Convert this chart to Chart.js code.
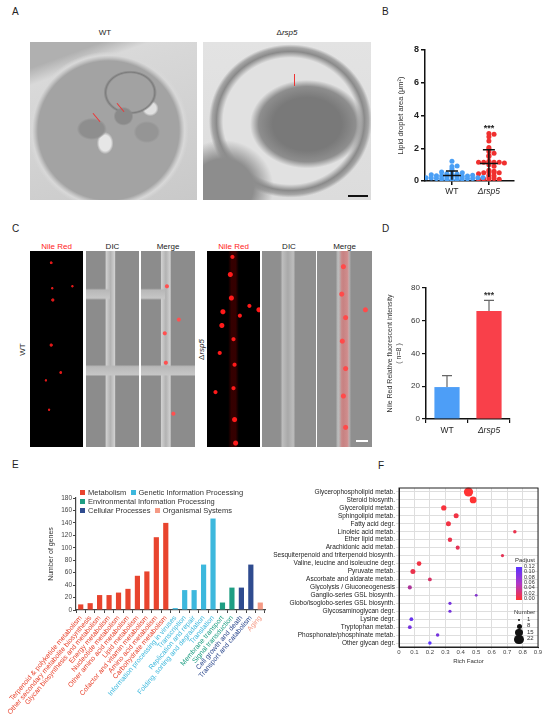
<!DOCTYPE html>
<html>
<head>
<meta charset="utf-8">
<script src="https://cdn.jsdelivr.net/npm/chart.js@4.4.1/dist/chart.umd.min.js"></script>
<style>
body{margin:0;background:#fff;font-family:'Liberation Sans',Arial,sans-serif;}
#wrap{position:relative;width:550px;height:719px;overflow:hidden;background:#fff;}
.abs{position:absolute;}
.pl{position:absolute;font-size:10px;color:#222;}
.ttl{position:absolute;font-size:8px;color:#222;text-align:center;}
canvas{position:absolute;}
.em{position:absolute;}
.lg{position:absolute;font-size:7.5px;color:#333;white-space:nowrap;}
.lg i{display:inline-block;width:5px;height:5px;margin:0 3px 0 0;font-style:normal;}
.sm{position:absolute;font-size:6px;color:#333;white-space:nowrap;}
</style>
</head>
<body>
<div id="wrap">
  <!-- panel letters -->
  <div class="pl" style="left:12px;top:6px">A</div>
  <div class="pl" style="left:382px;top:6px">B</div>
  <div class="pl" style="left:12px;top:223px">C</div>
  <div class="pl" style="left:382px;top:223px">D</div>
  <div class="pl" style="left:12px;top:459px">E</div>
  <div class="pl" style="left:378px;top:460px">F</div>

  <!-- A: EM images -->
  <div class="ttl" style="left:80px;top:28px;width:50px">WT</div>
  <div class="ttl" style="left:262px;top:28px;width:50px">&Delta;<i>rsp5</i></div>
  <div class="em" style="left:30px;top:42px;width:167px;height:158px;background:
    radial-gradient(ellipse 9% 7% at 37% 55%, #8e8e8e 0 80%, transparent 100%),
    radial-gradient(ellipse 6% 6% at 56% 47%, #8a8a8a 0 80%, transparent 100%),
    radial-gradient(ellipse 8% 7% at 70% 57%, #959595 0 80%, transparent 100%),
    radial-gradient(ellipse 16% 14% at 60% 32%, #a2a2a2 0 85%, #7c7c7c 92%, transparent 100%),
    radial-gradient(ellipse 5% 7% at 45% 64%, #e6e6e6 0 70%, transparent 100%),
    radial-gradient(ellipse 5% 5% at 72% 42%, #e0e0e0 0 70%, transparent 100%),
    radial-gradient(ellipse 48% 50% at 47% 56%, #a3a3a3 0 88%, #c4c4c4 92%, #d8d8d8 95%, transparent 100%),
    linear-gradient(160deg, #b0b0b0 0 12%, #d9d9d9 20%, #c9c9c9 100%);"></div>
  <div class="em" style="left:203px;top:42px;width:168px;height:158px;background:
    radial-gradient(ellipse 34% 28% at 62% 52%, #797979 0 60%, #8e8e8e 85%, transparent 100%),
    radial-gradient(ellipse 30% 30% at 12% 92%, #8d8d8d 0 60%, transparent 100%),
    radial-gradient(ellipse 50% 50% at 52% 50%, #e1e1e1 0 80%, #8a8a8a 88%, #a5a5a5 93%, transparent 97%),
    linear-gradient(180deg, #e3e3e3, #dcdcdc);"></div>
  <div class="abs" style="left:96px;top:112px;width:1px;height:11px;background:#e33;transform:rotate(-40deg)"></div>
  <div class="abs" style="left:120px;top:102px;width:1px;height:11px;background:#e33;transform:rotate(-40deg)"></div>
  <div class="abs" style="left:294px;top:74px;width:1px;height:12px;background:#e33"></div>
  <div class="abs" style="left:348px;top:195px;width:20px;height:1.5px;background:#111"></div>

  <!-- C: fluorescence images -->
  <div class="ttl" style="left:30px;top:242px;width:53px;color:#f22">Nile Red</div>
  <div class="ttl" style="left:86px;top:242px;width:53px">DIC</div>
  <div class="ttl" style="left:141px;top:242px;width:54px">Merge</div>
  <div class="ttl" style="left:207px;top:242px;width:53px;color:#f22">Nile Red</div>
  <div class="ttl" style="left:262px;top:242px;width:54px">DIC</div>
  <div class="ttl" style="left:317px;top:242px;width:55px">Merge</div>
  <div class="ttl" style="left:2px;top:345px;width:40px;transform:rotate(-90deg)">WT</div>
  <div class="ttl" style="left:181px;top:345px;width:40px;transform:rotate(-90deg)">&Delta;<i>rsp5</i></div>

  <div class="em" style="left:30px;top:251px;width:53px;height:196px;background:
    radial-gradient(circle at 40% 6%, #e01818 0 1px, transparent 1.8px),
    radial-gradient(circle at 42% 19%, #e01818 0 0.8px, transparent 1.6px),
    radial-gradient(circle at 80% 18%, #e01818 0 0.8px, transparent 1.6px),
    radial-gradient(circle at 43% 25%, #e01818 0 1.2px, transparent 2px),
    radial-gradient(circle at 40% 48%, #e01818 0 1.2px, transparent 2px),
    radial-gradient(circle at 58% 62%, #e01818 0 1px, transparent 1.8px),
    radial-gradient(circle at 30% 66%, #e01818 0 0.8px, transparent 1.6px),
    radial-gradient(circle at 36% 81%, #e01818 0 0.8px, transparent 1.6px),
    #000;"></div>
  <div class="em" style="left:86px;top:251px;width:53px;height:196px;background:
    linear-gradient(0deg, transparent 36%, #c6c6c6 37%, #b8b8b8 41%, transparent 42%) 50% 0/100% 100% no-repeat,
    linear-gradient(0deg, transparent 75%, #c6c6c6 76%, #b8b8b8 80%, transparent 81%) 0 0/45% 100% no-repeat,
    linear-gradient(90deg, #8c8c8c 0 36%, #d0d0d0 38%, #b2b2b2 46%, #d0d0d0 54%, #8c8c8c 56%);"></div>
  <div class="em" style="left:141px;top:251px;width:54px;height:196px;background:
    radial-gradient(circle at 48% 18%, #ff5050 0 1.5px, transparent 2.5px),
    radial-gradient(circle at 70% 35%, #ff5050 0 1.5px, transparent 2.5px),
    radial-gradient(circle at 44% 42%, #ff5050 0 1.5px, transparent 2.5px),
    radial-gradient(circle at 46% 57%, #ff5050 0 1.5px, transparent 2.5px),
    radial-gradient(circle at 60% 83%, #ff5050 0 1.5px, transparent 2.5px),
    linear-gradient(0deg, transparent 36%, #c6c6c6 37%, #b8b8b8 41%, transparent 42%) 50% 0/100% 100% no-repeat,
    linear-gradient(0deg, transparent 75%, #c6c6c6 76%, #b8b8b8 80%, transparent 81%) 0 0/45% 100% no-repeat,
    linear-gradient(90deg, #8c8c8c 0 36%, #d0d0d0 38%, #b2b2b2 46%, #d0d0d0 54%, #8c8c8c 56%);"></div>

  <div class="em" style="left:207px;top:251px;width:53px;height:196px;background:
    radial-gradient(circle at 48% 3%, #ff1a1a 0 1.5px, transparent 2.5px),
    radial-gradient(circle at 44% 12%, #ff1a1a 0 2px, transparent 3px),
    radial-gradient(circle at 46% 24%, #ff1a1a 0 2px, transparent 3px),
    radial-gradient(circle at 30% 31%, #ff1a1a 0 2px, transparent 3px),
    radial-gradient(circle at 62% 33%, #ff1a1a 0 1.5px, transparent 2.5px),
    radial-gradient(circle at 80% 28%, #ff1a1a 0 1.5px, transparent 2.5px),
    radial-gradient(circle at 98% 30%, #ff1a1a 0 2px, transparent 3px),
    radial-gradient(circle at 28% 38%, #ff1a1a 0 2px, transparent 3px),
    radial-gradient(circle at 50% 45%, #ff1a1a 0 1.5px, transparent 2.5px),
    radial-gradient(circle at 24% 52%, #ff1a1a 0 1.5px, transparent 2.5px),
    radial-gradient(circle at 52% 58%, #ff1a1a 0 1.5px, transparent 2.5px),
    radial-gradient(circle at 50% 70%, #ff1a1a 0 1.5px, transparent 2.5px),
    radial-gradient(circle at 16% 72%, #ff1a1a 0 1.5px, transparent 2.5px),
    radial-gradient(circle at 52% 86%, #ff1a1a 0 2px, transparent 3px),
    radial-gradient(circle at 54% 98%, #ff1a1a 0 2px, transparent 3px),
    linear-gradient(90deg, transparent 40%, rgba(150,0,0,.35) 46%, rgba(150,0,0,.35) 54%, transparent 60%),
    #000;"></div>
  <div class="em" style="left:262px;top:251px;width:54px;height:196px;background:
    linear-gradient(90deg, #8f8f8f 0 34%, #bdbdbd 38%, #a9a9a9 48%, #bdbdbd 58%, #8f8f8f 62%);"></div>
  <div class="em" style="left:317px;top:251px;width:55px;height:196px;background:
    radial-gradient(circle at 48% 8%, #ff4a4a 0 2px, transparent 3px),
    radial-gradient(circle at 45% 22%, #ff4a4a 0 2px, transparent 3px),
    radial-gradient(circle at 52% 34%, #ff4a4a 0 2px, transparent 3px),
    radial-gradient(circle at 88% 30%, #ff4a4a 0 2px, transparent 3px),
    radial-gradient(circle at 46% 46%, #ff4a4a 0 2px, transparent 3px),
    radial-gradient(circle at 52% 60%, #ff4a4a 0 2px, transparent 3px),
    radial-gradient(circle at 48% 74%, #ff4a4a 0 2px, transparent 3px),
    radial-gradient(circle at 52% 90%, #ff4a4a 0 2px, transparent 3px),
    linear-gradient(90deg, transparent 40%, rgba(255,60,60,.35) 45%, rgba(255,60,60,.35) 55%, transparent 60%),
    linear-gradient(90deg, #8f8f8f 0 34%, #bdbdbd 38%, #a9a9a9 48%, #bdbdbd 58%, #8f8f8f 62%);"></div>
  <div class="abs" style="left:356px;top:440px;width:12px;height:1.5px;background:#fff"></div>

  <canvas id="chartB" width="145" height="160" style="left:385px;top:40px;width:145px;height:160px"></canvas>
  <canvas id="chartD" width="140" height="170" style="left:385px;top:278px;width:140px;height:170px"></canvas>
  <canvas id="chartE" width="275" height="234" style="left:0px;top:485px;width:275px;height:234px"></canvas>
  <canvas id="chartF" width="295" height="185" style="left:250px;top:480px;width:295px;height:185px"></canvas>

  <!-- E legend -->
  <div class="lg" style="left:80px;top:488px"><i style="background:#e8442e"></i>Metabolism&nbsp;&nbsp;<i style="background:#3db8dd"></i>Genetic Information Processing</div>
  <div class="lg" style="left:80px;top:497px"><i style="background:#1e9e83"></i>Environmental Information Processing</div>
  <div class="lg" style="left:80px;top:506px"><i style="background:#2f4b8f"></i>Cellular Processes&nbsp;&nbsp;<i style="background:#f59a85"></i>Organismal Systems</div>

  <!-- F legends -->
  <div class="sm" style="left:515px;top:557px">Padjust</div>
  <div class="abs" style="left:516px;top:567px;width:6px;height:33px;background:linear-gradient(180deg,#5a33ff,#b038c8,#ff3333)"></div>
  <div id="padLbl"></div>
  <div class="sm" style="left:514px;top:609px">Number</div>
  <div id="numLbl"></div>
</div>

<script>
// ---------- data ----------
// B: lipid droplet area (um2)
const bLabels = ['WT', '\u0394rsp5'];
const bWT = [0.05,0.06,0.08,0.1,0.1,0.12,0.12,0.14,0.15,0.16,0.18,0.2,0.2,0.22,0.24,0.25,0.26,0.28,0.3,0.3,0.32,0.35,0.38,0.4,0.42,0.45,0.5,0.55,0.62,0.75,0.88,0.92,1.2];
const bRsp5 = [2.9,2.85,2.7,2.45,2.05,1.95,1.8,1.7,1.55,1.5,1.2,1.15,1.15,1.15,1.15,1.15,1.1,1.0,0.9,0.65,0.6,0.55,0.5,0.5,0.5,0.45,0.35,0.3,0.2,0.15,0.12,0.1,0.1,0.05];
const bTicks = [0, 2, 4, 6, 8];

// D: Nile Red relative fluorescent intensity
const dLabels = ['WT', '\u0394rsp5'];
const dValues = [19.5, 66];
const dErrors = [7, 6.5];

// E: KEGG classes
const eCategories = [
  'Terpenoid & polyketide metabolism','Other secondary metabolite biosynthesis','Glycan biosynthesis and metabolism',
  'Energy metabolism','Nucleotide metabolism','Other amino acid metabolism','Lipid metabolism',
  'Cofactor and vitamin metabolism','Amino acid metabolism','Carbohydrate metabolism',
  'Information processing in viruses','Transcription','Replication and repair','Folding, sorting and degradation','Translation',
  'Membrane transport','Signal transduction','Cell growth and death','Transport and catabolism','Aging'];
const eValues = [9,11,24,24,28,34,55,62,117,140, 3,32,32,73,147, 12,36, 36,73, 12];
const eGroups = [0,0,0,0,0,0,0,0,0,0, 1,1,1,1,1, 2,2, 3,3, 4];
const eGroupNames = ['Metabolism','Genetic Information Processing','Environmental Information Processing','Cellular Processes','Organismal Systems'];
const eGroupColors = ['#e8442e','#3db8dd','#1e9e83','#2f4b8f','#f59a85'];

// F: enrichment
const fTerms = ['Glycerophospholipid metab.','Steroid biosynth.','Glycerolipid metab.','Sphingolipid metab.','Fatty acid degr.',
  'Linoleic acid metab.','Ether lipid metab.','Arachidonic acid metab.','Sesquiterpenoid and triterpenoid biosynth.',
  'Valine, leucine and isoleucine degr.','Pyruvate metab.','Ascorbate and aldarate metab.','Glycolysis / Gluconeogenesis',
  'Ganglio-series GSL biosynth.','Globo/isoglobo-series GSL biosynth.','Glycosaminoglycan degr.','Lysine degr.',
  'Tryptophan metab.','Phosphonate/phosphinate metab.','Other glycan degr.'];
const fRich = [0.45,0.48,0.29,0.37,0.32,0.75,0.33,0.38,0.67,0.13,0.09,0.2,0.07,0.5,0.33,0.33,0.08,0.07,0.25,0.2];
const fCount = [22,14,9,8,8,3,6,5,2,7,8,4,5,1,2,2,4,4,3,3];
const fPadj = [0.0,0.0,0.005,0.01,0.01,0.015,0.015,0.02,0.02,0.01,0.015,0.03,0.06,0.09,0.1,0.1,0.11,0.1,0.1,0.12];
const fPadjTicks = [0.12,0.10,0.08,0.06,0.04,0.02,0.00];
const fNumTicks = [1,8,15,22];

// ---------- helpers ----------
const FONT = "'Liberation Sans', Arial, sans-serif";
Chart.defaults.font.family = FONT;
Chart.defaults.color = '#222';

function mean(a){ return a.reduce((s,v)=>s+v,0)/a.length; }
function sd(a){ const m = mean(a); return Math.sqrt(a.reduce((s,v)=>s+(v-m)*(v-m),0)/(a.length-1)); }

// simple bee-swarm: spread points of similar value sideways
function swarm(vals, binW, dx){
  const bins = {};
  return vals.map(v => {
    const k = Math.round(v / binW);
    const n = bins[k] = (bins[k] || 0) + 1;
    const i = n - 1;
    return i === 0 ? 0 : (i % 2 ? 1 : -1) * Math.ceil(i / 2) * dx;
  });
}

function padjColor(p){
  const t = Math.min(1, Math.max(0, p / 0.12));
  const c0 = [255,51,51], c1 = [90,51,255];
  const c = c0.map((v,i)=>Math.round(v + (c1[i]-v)*t));
  return 'rgb(' + c.join(',') + ')';
}
function bubbleR(n){ return 1.3 + 0.15 * n; }

// ---------- B ----------
const bGroups = [bWT, bRsp5];
const bColors = ['#4a9ff5', '#f0302f'];

const swarmSD = {
  id: 'swarmSD',
  afterDatasetsDraw(chart){
    const {ctx, scales:{x, y}} = chart;
    ctx.save();
    ctx.strokeStyle = '#111';
    ctx.lineWidth = 1.5;
    bGroups.forEach((vals, i) => {
      const m = mean(vals), s = sd(vals);
      const cx = x.getPixelForValue(i + 1);
      const yt = y.getPixelForValue(m + s), ym = y.getPixelForValue(m), yb = y.getPixelForValue(Math.max(0, m - s));
      ctx.beginPath();
      ctx.moveTo(cx - 9, ym); ctx.lineTo(cx + 9, ym);
      ctx.moveTo(cx, yb); ctx.lineTo(cx, yt);
      ctx.moveTo(cx - 6, yt); ctx.lineTo(cx + 6, yt);
      ctx.stroke();
    });
    ctx.fillStyle = '#222';
    ctx.font = 'bold 9px ' + FONT;
    ctx.textAlign = 'center';
    ctx.fillText('***', x.getPixelForValue(2), y.getPixelForValue(3.05));
    ctx.restore();
  }
};

new Chart(document.getElementById('chartB'), {
  type: 'scatter',
  data: {
    datasets: bGroups.map((vals, i) => {
      const off = swarm(vals, 0.16, 0.14);
      return {
        data: vals.map((v, j) => ({x: i + 1 + off[j], y: v})),
        backgroundColor: bColors[i],
        borderWidth: 0,
        pointRadius: 2.5
      };
    })
  },
  options: {
    responsive: false, animation: false,
    layout: {padding: {left: 11, top: 10, right: 16, bottom: 0}},
    plugins: {legend: {display: false}, tooltip: {enabled: false}},
    scales: {
      x: {
        type: 'linear', min: 0.27, max: 2.68,
        afterBuildTicks: s => { s.ticks = [{value: 1}, {value: 2}]; },
        afterFit: s => { s.height = 19; },
        grid: {drawOnChartArea: false, color: '#111', tickLength: 4, lineWidth: 1.5},
        border: {color: '#111', width: 1.5},
        ticks: {
          callback: v => bLabels[v - 1],
          color: '#222', padding: 2,
          font: c => ({family: FONT, size: 8.5, style: c.index === 1 ? 'italic' : 'normal'})
        }
      },
      y: {
        min: 0, max: 8,
        afterBuildTicks: s => { s.ticks = bTicks.map(v => ({value: v})); },
        afterFit: s => { s.width = 29; },
        grid: {drawOnChartArea: false, color: '#111', tickLength: 4, lineWidth: 1.5},
        border: {color: '#111', width: 1.5},
        ticks: {color: '#222', padding: 2, font: {size: 9, weight: 'bold'}},
        title: {display: true, text: 'Lipid droplet area (\u03bcm\u00b2)', font: {size: 7.5}, color: '#333', padding: {top: 0, bottom: 2}}
      }
    }
  },
  plugins: [swarmSD]
});

// ---------- D ----------
const barErr = {
  id: 'barErr',
  afterDatasetsDraw(chart){
    const {ctx, scales:{y}} = chart;
    const meta = chart.getDatasetMeta(0);
    ctx.save();
    ctx.strokeStyle = '#666';
    ctx.lineWidth = 1.2;
    meta.data.forEach((bar, i) => {
      const top = y.getPixelForValue(dValues[i] + dErrors[i]);
      ctx.beginPath();
      ctx.moveTo(bar.x, bar.y); ctx.lineTo(bar.x, top);
      ctx.moveTo(bar.x - 5, top); ctx.lineTo(bar.x + 5, top);
      ctx.stroke();
    });
    ctx.fillStyle = '#333';
    ctx.font = 'bold 8.5px ' + FONT;
    ctx.textAlign = 'center';
    ctx.fillText('***', meta.data[1].x, y.getPixelForValue(dValues[1] + dErrors[1]) - 2);
    ctx.restore();
  }
};

new Chart(document.getElementById('chartD'), {
  type: 'bar',
  data: {
    labels: dLabels,
    datasets: [{data: dValues, backgroundColor: ['#4d9ef7', '#f9404a'], barPercentage: 0.6, categoryPercentage: 1}]
  },
  options: {
    responsive: false, animation: false,
    layout: {padding: {left: 1, top: 10, right: 15, bottom: 0}},
    plugins: {legend: {display: false}, tooltip: {enabled: false}},
    scales: {
      x: {
        afterFit: s => { s.height = 29; },
        grid: {drawOnChartArea: false, color: '#111', tickLength: 4, lineWidth: 1.2},
        border: {color: '#111', width: 1.5},
        ticks: {
          color: '#222', padding: 3,
          font: c => ({family: FONT, size: 8.5, style: c.index === 1 ? 'italic' : 'normal'})
        }
      },
      y: {
        min: 0, max: 80,
        ticks: {stepSize: 20, color: '#333', padding: 2, font: {size: 8}},
        afterFit: s => { s.width = 40; },
        grid: {drawOnChartArea: false, color: '#111', tickLength: 4, lineWidth: 1.2},
        border: {color: '#111', width: 1.5},
        title: {display: true, text: ['Nile Red Relative fluorescent intensity', '( n=8 )'], font: {size: 7}, color: '#333', padding: {top: 0, bottom: 2}}
      }
    }
  },
  plugins: [barErr]
});

// ---------- E ----------
new Chart(document.getElementById('chartE'), {
  type: 'bar',
  data: {
    labels: eCategories,
    datasets: [{data: eValues, backgroundColor: eGroups.map(g => eGroupColors[g]), barPercentage: 0.55, categoryPercentage: 1}]
  },
  options: {
    responsive: false, animation: false,
    layout: {padding: {left: 47, top: 13, right: 10, bottom: 0}},
    plugins: {legend: {display: false}, tooltip: {enabled: false}},
    scales: {
      x: {
        afterFit: s => { s.height = 109; },
        grid: {drawOnChartArea: false, color: '#444', tickLength: 3},
        border: {color: '#444', width: 1.2},
        ticks: {
          autoSkip: false, minRotation: 50, maxRotation: 50, padding: 1,
          font: {size: 7},
          color: c => eGroupColors[eGroups[c.index]]
        }
      },
      y: {
        min: 0, max: 180,
        ticks: {stepSize: 20, color: '#444', padding: 1, font: {size: 6.5}},
        afterFit: s => { s.width = 29; },
        grid: {drawOnChartArea: false, color: '#444', tickLength: 3},
        border: {color: '#444', width: 1.2},
        title: {display: true, text: 'Number of genes', font: {size: 7}, color: '#333', padding: {top: 0, bottom: 2}}
      }
    }
  }
});

// ---------- F ----------
const boxPlugin = {
  id: 'box',
  afterDraw(chart){
    const {ctx, chartArea: a} = chart;
    ctx.save();
    ctx.strokeStyle = '#222';
    ctx.lineWidth = 1;
    ctx.strokeRect(a.left, a.top, a.right - a.left, a.bottom - a.top);
    ctx.restore();
  }
};

new Chart(document.getElementById('chartF'), {
  type: 'bubble',
  data: {
    datasets: [{
      data: fTerms.map((t, i) => ({x: fRich[i], y: t, r: bubbleR(fCount[i])})),
      backgroundColor: fPadj.map(padjColor),
      borderWidth: 0
    }]
  },
  options: {
    responsive: false, animation: false,
    layout: {padding: {left: 0, top: 8, right: 7, bottom: 0}},
    plugins: {legend: {display: false}, tooltip: {enabled: false}},
    scales: {
      x: {
        type: 'linear', min: 0, max: 0.9,
        afterFit: s => { s.height = 18; },
        ticks: {stepSize: 0.1, color: '#444', padding: 0, font: {size: 6}, callback: v => v === 0 ? '0' : v.toFixed(1)},
        grid: {color: '#dedede', tickLength: 2},
        border: {color: '#222'},
        title: {display: true, text: 'Rich Factor', font: {size: 6}, color: '#333', padding: 0}
      },
      y: {
        type: 'category', labels: fTerms, offset: true,
        afterFit: s => { s.width = 149; },
        ticks: {autoSkip: false, color: '#222', padding: 1, font: {size: 6.5}},
        grid: {color: '#dedede', tickLength: 3},
        border: {color: '#222'}
      }
    }
  },
  plugins: [boxPlugin]
});

// F legends (colour bar labels and bubble sizes)
const padLbl = document.getElementById('padLbl');
fPadjTicks.forEach((v, i) => {
  const d = document.createElement('div');
  d.className = 'sm';
  d.style.left = '524px';
  d.style.top = (563 + i * 5.3) + 'px';
  d.style.fontSize = '5.5px';
  d.textContent = v.toFixed(2);
  padLbl.appendChild(d);
});
const numLbl = document.getElementById('numLbl');
fNumTicks.forEach((n, i) => {
  const r = bubbleR(n), cy = 620 + i * 6.4;
  const c = document.createElement('div');
  c.className = 'abs';
  c.style.cssText = 'left:' + (519 - r) + 'px;top:' + (cy - r) + 'px;width:' + (2 * r) + 'px;height:' + (2 * r) + 'px;border-radius:50%;background:#111';
  numLbl.appendChild(c);
  const t = document.createElement('div');
  t.className = 'sm';
  t.style.left = '527px';
  t.style.top = (cy - 4) + 'px';
  t.textContent = n;
  numLbl.appendChild(t);
});
</script>
</body>
</html>
